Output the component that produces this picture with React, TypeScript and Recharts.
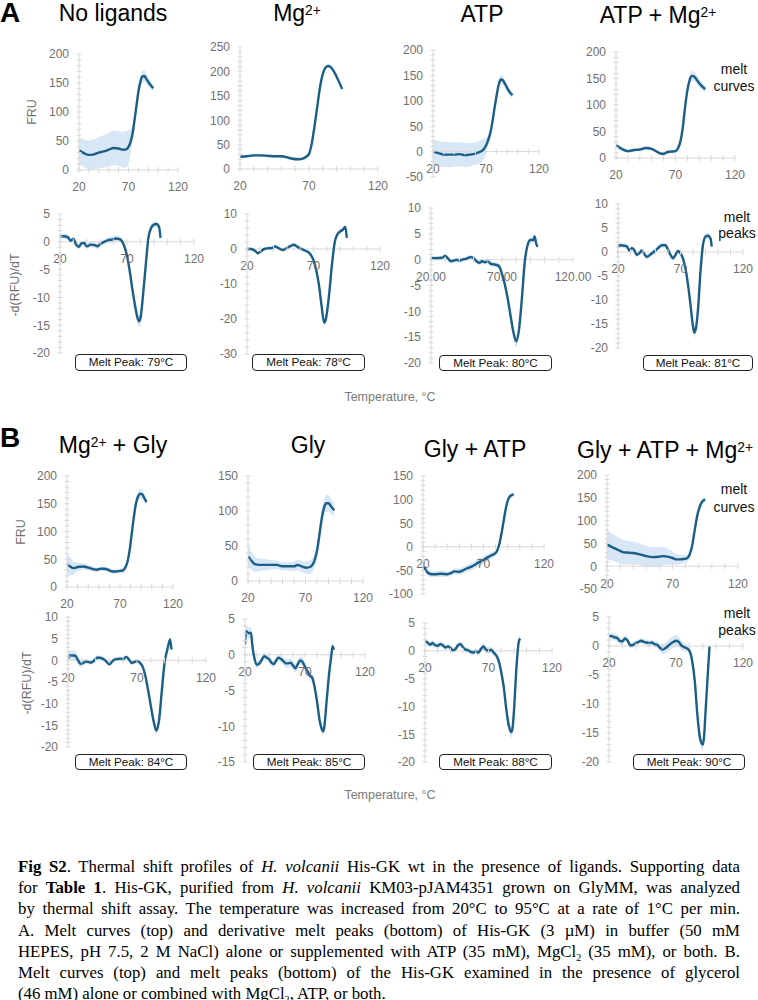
import React from 'react';
import { Area, ComposedChart, Line, ReferenceDot, ReferenceLine, XAxis, YAxis } from 'recharts';

const CURVE = '#1b5e86';
const BAND = '#d8e7f5';
const AXIS = '#d9d9d9';
const TICK_TEXT = '#707070';
const SANS = '"Liberation Sans", Arial, sans-serif';

const X_TICKS = [20, 30, 40, 50, 60, 70, 80, 90, 100, 110, 120];
const X_LABELS = [20, 70, 120];

// ---- A: melt curves ----
const NL_MELT_T = [20, 25, 30, 35, 40, 45, 50, 55, 60, 65, 68, 70, 72, 74, 76, 78, 80, 82, 84, 86, 88, 90, 92, 95];
const NL_MELT_Y = [34, 29, 26, 27, 30, 32, 35, 38, 37, 35, 36, 40, 48, 62, 85, 110, 135, 152, 161, 162, 157, 152, 147, 141];
const NL_MELT_E = [22, 24, 25, 26, 27, 28, 29, 30, 30, 31, 31, 30, 22, 14, 10, 9, 9, 10, 10, 10, 9, 8, 7, 6];

const MG_MELT_T = [20, 25, 30, 35, 40, 45, 50, 55, 58, 62, 66, 68, 70, 72, 74, 76, 78, 80, 82, 84, 86, 88, 90, 92, 94];
const MG_MELT_Y = [25, 26, 28, 28, 27, 26, 26, 23, 21, 20, 22, 25, 31, 52, 88, 128, 168, 195, 208, 211, 208, 200, 189, 177, 164];
const MG_MELT_E = [3, 3, 3, 3, 3, 3, 3, 3, 3, 3, 3, 3, 4, 5, 6, 6, 6, 5, 4, 4, 4, 4, 4, 4, 4];

const ATP_MELT_T = [20, 25, 30, 35, 40, 45, 50, 55, 60, 65, 68, 70, 72, 74, 76, 78, 80, 82, 84, 86, 88, 90, 92, 95];
const ATP_MELT_Y = [0, -3, -6, -6, -6, -5, -7, -6, -4, 0, 5, 12, 22, 36, 58, 85, 110, 132, 142, 140, 133, 125, 118, 111];
const ATP_MELT_E = [25, 25, 25, 25, 24, 24, 24, 23, 22, 22, 20, 16, 12, 10, 9, 8, 8, 9, 9, 9, 8, 7, 7, 6];

const ATPMG_MELT_T = [20, 25, 30, 35, 40, 45, 50, 55, 58, 60, 63, 66, 70, 72, 74, 76, 78, 80, 82, 84, 86, 88, 90, 92, 95];
const ATPMG_MELT_Y = [24, 17, 13, 15, 16, 19, 17, 11, 8, 8, 11, 12, 13, 18, 30, 55, 95, 128, 148, 155, 153, 147, 141, 136, 130];
const ATPMG_MELT_E = [4, 4, 3, 3, 3, 3, 3, 3, 3, 3, 3, 3, 4, 5, 6, 7, 8, 9, 9, 9, 9, 8, 8, 7, 6];

// ---- A: melt peaks ----
const NL_PEAK_T = [20, 23, 26, 28, 30, 32, 34, 36, 38, 40, 43, 46, 48, 50, 53, 56, 59, 62, 64, 66, 68, 70, 72, 74, 76, 78, 79, 80, 82, 84, 86, 88, 90, 92, 94, 95];
const NL_PEAK_Y = [1.0, 1.0, 0.8, 0.2, 0.5, -0.5, -0.9, -0.3, -0.2, -0.8, -0.5, -0.6, -0.8, -0.4, 0, 0.3, 0.4, 0.6, 0.5, 0.2, -0.8, -2.5, -5.2, -8.5, -11.5, -13.8, -14.3, -13.8, -9.5, -4.2, 0.8, 2.5, 3.1, 3.2, 2.6, 0.7];
const NL_PEAK_E = [0.5, 0.5, 0.5, 0.4, 0.4, 0.5, 0.5, 0.5, 0.5, 0.5, 0.5, 0.5, 0.5, 0.5, 0.5, 0.5, 0.6, 0.6, 0.6, 0.5, 0.5, 0.6, 0.7, 0.8, 0.9, 1.0, 1.1, 1.0, 0.9, 0.8, 0.7, 0.6, 0.6, 0.5, 0.5, 0.5];

const MG_PEAK_T = [20, 23, 26, 28, 30, 33, 36, 39, 41, 44, 47, 50, 53, 55, 58, 61, 64, 67, 70, 72, 74, 76, 78, 79, 80, 82, 84, 86, 88, 90, 92, 94, 95];
const MG_PEAK_Y = [0, 0, -0.5, -1.2, -0.8, 0, 0.2, 0.3, 0.7, 0.2, -0.3, 0.3, 0.9, 1.2, 0.6, 0, -0.5, -1.2, -3.2, -6, -10, -16, -21, -20.5, -18.5, -12, -4, 2, 4.2, 5, 5.5, 6.3, 3.2];
const MG_PEAK_E = [0.5, 0.5, 0.5, 0.5, 0.5, 0.5, 0.5, 0.5, 0.5, 0.5, 0.5, 0.5, 0.5, 0.5, 0.5, 0.5, 0.5, 0.6, 0.7, 0.8, 0.9, 1.0, 1.1, 1.1, 1.0, 0.9, 0.8, 0.7, 0.6, 0.6, 0.6, 0.6, 0.6];

const ATP_PEAK_T = [20, 24, 28, 30, 32, 34, 36, 38, 40, 42, 45, 48, 50, 52, 54, 56, 58, 60, 62, 64, 66, 68, 70, 72, 74, 76, 78, 80, 82, 84, 86, 88, 90, 92, 93, 94, 95];
const ATP_PEAK_Y = [0.3, 0.3, 0.4, 0.7, 0.2, -0.3, -0.2, 0, -0.2, 0, 0.2, 0.5, 0.3, -0.3, -0.6, -0.3, -0.5, -0.3, -0.8, -0.9, -1, -1.3, -2.8, -4.8, -7.5, -10.8, -14, -15.8, -13.5, -7.5, -0.5, 2.8, 3.8, 3.8, 4.5, 3.2, 2.5];
const ATP_PEAK_E = [0.4, 0.4, 0.4, 0.4, 0.4, 0.4, 0.4, 0.4, 0.4, 0.4, 0.4, 0.4, 0.4, 0.4, 0.5, 0.5, 0.5, 0.5, 0.5, 0.5, 0.5, 0.5, 0.6, 0.7, 0.8, 0.9, 1.0, 1.1, 1.0, 0.9, 0.8, 0.7, 0.6, 0.6, 0.6, 0.5, 0.5];

const ATPMG_PEAK_T = [20, 22, 25, 27, 29, 31, 33, 35, 37, 39, 41, 43, 46, 49, 52, 55, 58, 60, 62, 64, 66, 68, 70, 72, 74, 76, 78, 80, 81, 82, 84, 86, 88, 90, 92, 94, 95];
const ATPMG_PEAK_Y = [1.1, 1.4, 1.3, 1.2, 0.3, 0.8, 0.4, -0.6, -0.3, 0.3, -0.4, -1, -0.5, 0.1, 0.8, 1.4, 1.4, 0.5, -0.6, -1.3, -0.6, 0.2, -0.3, -1.4, -3.5, -6.8, -11, -15.5, -16.8, -16.3, -12, -4, 1.5, 3.2, 3.4, 2.8, 1.1];
const ATPMG_PEAK_E = [0.5, 0.5, 0.5, 0.5, 0.5, 0.5, 0.5, 0.5, 0.5, 0.5, 0.5, 0.5, 0.5, 0.5, 0.5, 0.5, 0.5, 0.5, 0.6, 0.6, 0.6, 0.5, 0.5, 0.6, 0.7, 0.8, 0.9, 1.0, 1.0, 1.0, 0.9, 0.8, 0.7, 0.6, 0.6, 0.5, 0.5];

// ---- B: melt curves ----
const MGGLY_MELT_T = [20, 23, 26, 30, 35, 40, 45, 48, 52, 55, 60, 63, 66, 70, 73, 75, 77, 79, 81, 83, 85, 87, 89, 91, 93, 95];
const MGGLY_MELT_Y = [41, 37, 34, 36, 37, 35, 32, 31, 33, 33, 30, 28, 28, 29, 30, 35, 45, 65, 95, 125, 150, 163, 168, 167, 160, 153];
const MGGLY_MELT_E = [20, 16, 12, 8, 6, 5, 4, 4, 4, 4, 4, 4, 4, 4, 5, 6, 7, 8, 9, 10, 10, 10, 9, 8, 7, 6];

const GLY_MELT_T = [20, 23, 26, 30, 35, 40, 45, 50, 55, 60, 63, 65, 68, 71, 74, 76, 78, 80, 82, 84, 86, 88, 90, 92, 95];
const GLY_MELT_Y = [35, 29, 24, 23, 23, 23, 23, 21, 21, 21, 23, 22, 20, 19, 20, 23, 30, 43, 65, 88, 104, 111, 111, 107, 101];
const GLY_MELT_E = [15, 13, 11, 9, 8, 7, 6, 6, 6, 7, 7, 8, 8, 9, 10, 10, 10, 10, 11, 12, 12, 12, 12, 11, 10];

const GLYATP_MELT_T = [20, 22, 24, 27, 30, 35, 40, 43, 46, 50, 53, 56, 60, 63, 66, 70, 73, 76, 79, 81, 83, 85, 87, 89, 91, 93, 95];
const GLYATP_MELT_Y = [-38, -48, -55, -58, -58, -57, -58, -56, -52, -53, -50, -46, -42, -38, -33, -28, -23, -19, -15, -10, 5, 30, 60, 88, 104, 109, 111];
const GLYATP_MELT_E = [8, 7, 7, 6, 6, 6, 6, 6, 6, 7, 7, 7, 8, 8, 8, 8, 7, 7, 6, 6, 6, 6, 6, 6, 5, 5, 5];

const ALL_MELT_T = [20, 23, 26, 29, 32, 35, 40, 45, 50, 55, 60, 63, 66, 70, 73, 76, 79, 81, 83, 85, 87, 89, 91, 93, 95];
const ALL_MELT_Y = [48, 43, 39, 35, 31, 30, 29, 26, 22, 20, 21, 22, 21, 18, 15, 15, 16, 17, 25, 45, 80, 112, 132, 143, 146];
const ALL_MELT_E = [32, 30, 29, 28, 27, 26, 25, 24, 23, 22, 21, 20, 18, 15, 12, 10, 9, 8, 8, 8, 8, 8, 8, 7, 6];

// ---- B: melt peaks ----
const MGGLY_PEAK_T = [20, 21, 23, 25, 27, 29, 31, 33, 35, 37, 39, 41, 43, 45, 47, 49, 50, 52, 54, 56, 58, 60, 62, 64, 66, 68, 70, 72, 74, 76, 78, 80, 82, 84, 86, 88, 90, 92, 94, 95];
const MGGLY_PEAK_Y = [0.4, 1.1, 1.1, 1.1, 0.2, -0.8, -0.6, -0.3, -0.4, -0.5, 0, 0.6, 0.6, 0.4, 0, -0.7, -0.9, -0.3, 0.2, 0.3, 0.4, 0.3, 0.8, 0.3, -0.6, -0.4, -0.2, -0.5, -1.4, -3.5, -6.8, -10.5, -14, -16.2, -13.8, -7, -0.5, 2.5, 4.8, 2.5];
const MGGLY_PEAK_E = [1.2, 1.2, 1.2, 1.1, 1.0, 0.9, 0.8, 0.6, 0.5, 0.5, 0.5, 0.5, 0.5, 0.5, 0.5, 0.5, 0.5, 0.5, 0.5, 0.5, 0.5, 0.5, 0.5, 0.5, 0.5, 0.5, 0.5, 0.5, 0.6, 0.7, 0.8, 0.9, 1.0, 1.0, 1.0, 0.9, 0.8, 0.7, 0.6, 0.6];

const GLY_PEAK_T = [20, 21, 23, 25, 26, 28, 30, 32, 34, 36, 38, 40, 42, 44, 46, 48, 50, 52, 54, 56, 58, 60, 62, 64, 66, 68, 70, 72, 74, 76, 78, 80, 82, 84, 85, 86, 88, 90, 92, 93, 94];
const GLY_PEAK_Y = [1.4, 3.3, 3.0, 3.1, 1.5, -0.6, -1.4, -1.2, -0.7, -0.2, -0.4, -0.6, -1.1, -1.3, -0.8, -0.4, -0.6, -0.9, -1.2, -1.2, -1.1, -1.5, -1.9, -1.3, -0.8, -1.0, -1.7, -2.3, -2.9, -3.2, -4.5, -6.5, -9, -10.4, -10.7, -10.2, -6.5, -2.8, 0, 1.2, 0.7];
const GLY_PEAK_E = [0.6, 0.7, 0.8, 0.8, 0.7, 0.6, 0.5, 0.5, 0.5, 0.5, 0.5, 0.5, 0.5, 0.5, 0.5, 0.5, 0.5, 0.5, 0.6, 0.6, 0.6, 0.6, 0.6, 0.6, 0.6, 0.6, 0.6, 0.6, 0.6, 0.6, 0.6, 0.6, 0.6, 0.6, 0.6, 0.6, 0.6, 0.5, 0.5, 0.5, 0.5];

const GLYATP_PEAK_T = [20, 22, 24, 26, 28, 30, 32, 34, 36, 38, 40, 42, 44, 46, 48, 50, 52, 54, 56, 58, 60, 62, 64, 66, 68, 70, 72, 74, 76, 78, 80, 82, 84, 86, 88, 89, 90, 92, 94, 95];
const GLYATP_PEAK_Y = [1.7, 1.5, 1.1, 1.4, 1.0, 0.9, 1.2, 1.0, 0.6, 0.8, 0.5, 0.1, 0.3, 1.0, 1.2, 0.6, 0.2, 0.1, -0.2, -0.3, -0.1, -0.3, 0.3, 0.8, 0.2, 0, 0.2, -0.3, -0.8, -1.8, -3.8, -6.5, -10.5, -13.5, -14.6, -13.8, -11, -3, 1.8, 2.2];
const GLYATP_PEAK_E = [0.5, 0.5, 0.5, 0.5, 0.5, 0.5, 0.5, 0.5, 0.5, 0.5, 0.5, 0.5, 0.5, 0.5, 0.5, 0.5, 0.5, 0.5, 0.5, 0.5, 0.5, 0.5, 0.5, 0.6, 0.6, 0.6, 0.6, 0.6, 0.6, 0.7, 0.8, 0.9, 1.0, 1.0, 1.0, 1.0, 0.9, 0.8, 0.7, 0.7];

const ALL_PEAK_T = [20, 22, 24, 26, 28, 30, 32, 34, 36, 38, 40, 42, 44, 46, 48, 50, 52, 54, 56, 58, 60, 62, 64, 66, 68, 70, 72, 74, 76, 78, 80, 82, 84, 86, 88, 90, 91, 92, 94, 95];
const ALL_PEAK_Y = [1.7, 1.7, 1.5, 1.4, 0.9, 0.8, 1.3, 0.9, 0.1, 0.2, 0.5, 0.7, 0.9, 0.7, 0.6, 0.5, 0.6, 0.3, 0.2, -0.3, -0.6, -0.4, 0, 0.4, 0.7, 0.9, 0.7, 0.1, -0.2, -0.4, -0.8, -2.5, -6, -12, -16, -17, -15.5, -11.5, -3.8, -0.1];
const ALL_PEAK_E = [0.6, 0.6, 0.6, 0.6, 0.6, 0.6, 0.5, 0.5, 0.5, 0.5, 0.5, 0.5, 0.5, 0.5, 0.5, 0.5, 0.5, 0.5, 0.6, 0.7, 0.8, 0.9, 1.0, 1.0, 1.0, 1.0, 0.9, 0.8, 0.7, 0.6, 0.6, 0.7, 0.8, 0.9, 1.0, 1.0, 1.0, 0.9, 0.8, 0.7];

type Panel = {
  id: string;
  left: number; // px of 20 °C
  right: number; // px of 120 °C
  top: number; // px of y max
  bottom: number; // px of y min
  domain: [number, number];
  step: number;
  t: number[];
  y: number[];
  e: number[];
  fmtX?: (v: number) => string;
};

const PANELS: Panel[] = [
  { id: 'a1m', left: 79, right: 178, top: 54, bottom: 170, domain: [0, 200], step: 50, t: NL_MELT_T, y: NL_MELT_Y, e: NL_MELT_E },
  { id: 'a2m', left: 240, right: 378, top: 47, bottom: 169, domain: [0, 250], step: 50, t: MG_MELT_T, y: MG_MELT_Y, e: MG_MELT_E },
  { id: 'a3m', left: 433, right: 539, top: 50, bottom: 177, domain: [-50, 200], step: 50, t: ATP_MELT_T, y: ATP_MELT_Y, e: ATP_MELT_E },
  { id: 'a4m', left: 616, right: 735, top: 52, bottom: 158, domain: [0, 200], step: 50, t: ATPMG_MELT_T, y: ATPMG_MELT_Y, e: ATPMG_MELT_E },
  { id: 'a1p', left: 60, right: 194, top: 214, bottom: 353, domain: [-20, 5], step: 5, t: NL_PEAK_T, y: NL_PEAK_Y, e: NL_PEAK_E },
  { id: 'a2p', left: 247, right: 380, top: 214, bottom: 354, domain: [-30, 10], step: 10, t: MG_PEAK_T, y: MG_PEAK_Y, e: MG_PEAK_E },
  { id: 'a3p', left: 431, right: 573, top: 208, bottom: 363, domain: [-20, 10], step: 5, t: ATP_PEAK_T, y: ATP_PEAK_Y, e: ATP_PEAK_E, fmtX: (v) => v.toFixed(2) },
  { id: 'a4p', left: 618, right: 743, top: 204, bottom: 348, domain: [-20, 10], step: 5, t: ATPMG_PEAK_T, y: ATPMG_PEAK_Y, e: ATPMG_PEAK_E },
  { id: 'b1m', left: 67, right: 173, top: 476, bottom: 587, domain: [0, 200], step: 50, t: MGGLY_MELT_T, y: MGGLY_MELT_Y, e: MGGLY_MELT_E },
  { id: 'b2m', left: 248, right: 363, top: 476, bottom: 581, domain: [0, 150], step: 50, t: GLY_MELT_T, y: GLY_MELT_Y, e: GLY_MELT_E },
  { id: 'b3m', left: 423, right: 544, top: 476, bottom: 594, domain: [-100, 150], step: 50, t: GLYATP_MELT_T, y: GLYATP_MELT_Y, e: GLYATP_MELT_E },
  { id: 'b4m', left: 607, right: 738, top: 475, bottom: 589, domain: [-50, 200], step: 50, t: ALL_MELT_T, y: ALL_MELT_Y, e: ALL_MELT_E },
  { id: 'b1p', left: 68, right: 206, top: 617, bottom: 747, domain: [-20, 10], step: 5, t: MGGLY_PEAK_T, y: MGGLY_PEAK_Y, e: MGGLY_PEAK_E },
  { id: 'b2p', left: 245, right: 365, top: 619, bottom: 762, domain: [-15, 5], step: 5, t: GLY_PEAK_T, y: GLY_PEAK_Y, e: GLY_PEAK_E },
  { id: 'b3p', left: 425, right: 552, top: 623, bottom: 762, domain: [-20, 5], step: 5, t: GLYATP_PEAK_T, y: GLYATP_PEAK_Y, e: GLYATP_PEAK_E },
  { id: 'b4p', left: 609, right: 743, top: 617, bottom: 762, domain: [-20, 5], step: 5, t: ALL_PEAK_T, y: ALL_PEAK_Y, e: ALL_PEAK_E },
];

const ML = 44;
const MT = 8;
const MR = 24;
const MB = 30;

function isMajor(v: number, step: number) {
  const r = v / step;
  return Math.abs(r - Math.round(r)) < 1e-6;
}

function MiniChart({ p }: { p: Panel }) {
  const rows = p.t.map((t, i) => ({ t, v: p.y[i], band: [p.y[i] - p.e[i], p.y[i] + p.e[i]] }));
  const minor = p.step / 5;
  const yTicks: number[] = [];
  for (let v = p.domain[0]; v <= p.domain[1] + 1e-9; v += minor) yTicks.push(Math.round(v * 100) / 100);
  const width = ML + (p.right - p.left) + MR;
  const height = MT + (p.bottom - p.top) + MB;
  const fmt = p.fmtX ?? ((v: number) => String(v));

  return (
    <div style={{ position: 'absolute', left: p.left - ML, top: p.top - MT }}>
      <ComposedChart
        width={width}
        height={height}
        data={rows}
        margin={{ top: MT, right: MR, bottom: MB, left: 0 }}
        style={{ overflow: 'visible' }}
      >
        <XAxis type="number" dataKey="t" domain={[20, 120]} allowDataOverflow hide />
        <YAxis
          type="number"
          domain={p.domain}
          allowDataOverflow
          width={ML}
          ticks={yTicks}
          interval={0}
          tickSize={0}
          tickMargin={0}
          tickLine={false}
          axisLine={{ stroke: AXIS }}
          tick={(tp: any) => (
            <g>
              <line x1={tp.x - 2.5} x2={tp.x + 2.5} y1={tp.y} y2={tp.y} stroke={AXIS} />
              {isMajor(tp.payload.value, p.step) && (
                <text
                  x={tp.x - 10}
                  y={tp.y}
                  dy="0.36em"
                  textAnchor="end"
                  fill={TICK_TEXT}
                  fontSize={12}
                  fontFamily={SANS}
                >
                  {tp.payload.value}
                </text>
              )}
            </g>
          )}
        />
        <Area
          dataKey="band"
          type="monotone"
          fill={BAND}
          fillOpacity={1}
          stroke="none"
          isAnimationActive={false}
        />
        <ReferenceLine y={0} stroke={AXIS} />
        {X_TICKS.map((x) => (
          <ReferenceDot
            key={x}
            x={x}
            y={0}
            shape={(dp: any) => (
              <g>
                <line x1={dp.cx} x2={dp.cx} y1={dp.cy - 3} y2={dp.cy + 3} stroke={AXIS} />
                {X_LABELS.includes(x) && (
                  <text
                    x={dp.cx}
                    y={dp.cy + 17}
                    dy="0.36em"
                    textAnchor="middle"
                    fill={TICK_TEXT}
                    fontSize={12}
                    fontFamily={SANS}
                  >
                    {fmt(x)}
                  </text>
                )}
              </g>
            )}
          />
        ))}
        <Line
          dataKey="v"
          type="monotone"
          stroke={CURVE}
          strokeWidth={2.4}
          dot={false}
          isAnimationActive={false}
        />
      </ComposedChart>
    </div>
  );
}

const PEAK_BOXES = [
  { label: 'Melt Peak: 79°C', x0: 75, x1: 187, y0: 354, y1: 371 },
  { label: 'Melt Peak: 78°C', x0: 252, x1: 365, y0: 354, y1: 371 },
  { label: 'Melt Peak: 80°C', x0: 439, x1: 552, y0: 355, y1: 371 },
  { label: 'Melt Peak: 81°C', x0: 643, x1: 753, y0: 355, y1: 371 },
  { label: 'Melt Peak: 84°C', x0: 75, x1: 187, y0: 754, y1: 770 },
  { label: 'Melt Peak: 85°C', x0: 253, x1: 365, y0: 754, y1: 770 },
  { label: 'Melt Peak: 88°C', x0: 439, x1: 552, y0: 754, y1: 770 },
  { label: 'Melt Peak: 90°C', x0: 633, x1: 745, y0: 754, y1: 770 },
];

const Sup = ({ children }: { children: React.ReactNode }) => (
  <span style={{ fontSize: '0.6em', verticalAlign: '6px', lineHeight: 0 }}>{children}</span>
);

const TITLES: { cx: number; base: number; node: React.ReactNode }[] = [
  { cx: 113, base: 21, node: 'No ligands' },
  { cx: 297, base: 21, node: <>Mg<Sup>2+</Sup></> },
  { cx: 482, base: 22, node: 'ATP' },
  { cx: 658, base: 23, node: <>ATP + Mg<Sup>2+</Sup></> },
  { cx: 113, base: 453, node: <>Mg<Sup>2+</Sup> + Gly</> },
  { cx: 308, base: 453, node: 'Gly' },
  { cx: 475, base: 457, node: 'Gly + ATP' },
  { cx: 665, base: 458, node: <>Gly + ATP + Mg<Sup>2+</Sup></> },
];

function Text({ cx, cy, size, color, children }: any) {
  return (
    <div
      style={{
        position: 'absolute',
        left: cx - 100,
        width: 200,
        top: cy - size,
        height: size * 2,
        lineHeight: `${size * 2}px`,
        textAlign: 'center',
        fontFamily: SANS,
        fontSize: size,
        color,
        whiteSpace: 'nowrap',
      }}
    >
      {children}
    </div>
  );
}

function VText({ cx, cy, children }: any) {
  return (
    <div
      style={{
        position: 'absolute',
        left: cx,
        top: cy,
        transform: 'translate(-50%, -50%) rotate(-90deg)',
        fontFamily: SANS,
        fontSize: 12.5,
        color: TICK_TEXT,
        whiteSpace: 'nowrap',
      }}
    >
      {children}
    </div>
  );
}

const CAPTION_LINES: React.ReactNode[] = [
  <><b>Fig S2</b>. Thermal shift profiles of <i>H. volcanii</i> His-GK wt in the presence of ligands. Supporting data</>,
  <>for <b>Table 1</b>. His-GK, purified from <i>H. volcanii</i> KM03-pJAM4351 grown on GlyMM, was analyzed</>,
  <>by thermal shift assay. The temperature was increased from 20°C to 95°C at a rate of 1°C per min.</>,
  <>A. Melt curves (top) and derivative melt peaks (bottom) of His-GK (3 µM) in buffer (50 mM</>,
  <>HEPES, pH 7.5, 2 M NaCl) alone or supplemented with ATP (35 mM), MgCl<sub style={{ fontSize: '0.6em', lineHeight: 0 }}>2</sub> (35 mM), or both. B.</>,
  <>Melt curves (top) and melt peaks (bottom) of the His-GK examined in the presence of glycerol</>,
  <>(46 mM) alone or combined with MgCl<sub style={{ fontSize: '0.6em', lineHeight: 0 }}>2</sub>, ATP, or both.</>,
];

export default function App() {
  return (
    <div style={{ position: 'absolute', left: 0, top: 0, width: 758, height: 1000, background: '#fff', overflow: 'hidden' }}>
      {PANELS.map((p) => (
        <MiniChart key={p.id} p={p} />
      ))}

      {/* panel letters and condition titles */}
      <div style={{ position: 'absolute', left: 0, top: 0, fontFamily: SANS, fontWeight: 700, fontSize: 28, lineHeight: '26px' }}>A</div>
      <div style={{ position: 'absolute', left: 0, top: 425, fontFamily: SANS, fontWeight: 700, fontSize: 28, lineHeight: '26px' }}>B</div>
      {TITLES.map((t, i) => (
        <div
          key={i}
          style={{
            position: 'absolute',
            left: t.cx - 150,
            width: 300,
            top: t.base - 19,
            lineHeight: '23px',
            textAlign: 'center',
            fontFamily: SANS,
            fontSize: 23,
            color: '#000',
            whiteSpace: 'nowrap',
          }}
        >
          {t.node}
        </div>
      ))}

      {/* axis titles */}
      <VText cx={32} cy={112}>FRU</VText>
      <VText cx={15} cy={285}>-d(RFU)/dT</VText>
      <VText cx={21} cy={532}>FRU</VText>
      <VText cx={27} cy={683}>-d(RFU)/dT</VText>
      <Text cx={390} cy={397} size={12.5} color="#7a7a7a">Temperature, °C</Text>
      <Text cx={390} cy={795} size={12.5} color="#7a7a7a">Temperature, °C</Text>

      {/* row notes on the right */}
      <Text cx={734} cy={69} size={14} color="#111">melt</Text>
      <Text cx={734} cy={86} size={14} color="#111">curves</Text>
      <Text cx={737} cy={217} size={14} color="#111">melt</Text>
      <Text cx={737} cy={233} size={14} color="#111">peaks</Text>
      <Text cx={734} cy={489} size={14} color="#111">melt</Text>
      <Text cx={734} cy={507} size={14} color="#111">curves</Text>
      <Text cx={737} cy={613} size={14} color="#111">melt</Text>
      <Text cx={737} cy={630} size={14} color="#111">peaks</Text>

      {PEAK_BOXES.map((b) => (
        <div
          key={b.label}
          style={{
            position: 'absolute',
            left: b.x0,
            top: b.y0,
            width: b.x1 - b.x0,
            height: b.y1 - b.y0,
            boxSizing: 'border-box',
            border: '1.5px solid #222',
            borderRadius: 4,
            fontFamily: SANS,
            fontSize: 11.7,
            lineHeight: `${b.y1 - b.y0 - 3}px`,
            textAlign: 'center',
            color: '#111',
            whiteSpace: 'nowrap',
          }}
        >
          {b.label}
        </div>
      ))}

      {CAPTION_LINES.map((line, i) => {
        const last = i === CAPTION_LINES.length - 1;
        return (
          <div
            key={i}
            style={{
              position: 'absolute',
              left: 18,
              width: 722,
              top: 856 + i * 21.2,
              lineHeight: '21px',
              fontFamily: '"Liberation Serif", "Times New Roman", serif',
              fontSize: 16.8,
              color: '#000',
              textAlign: last ? 'left' : 'justify',
              textAlignLast: last ? 'left' : 'justify',
            }}
          >
            {line}
          </div>
        );
      })}
    </div>
  );
}
